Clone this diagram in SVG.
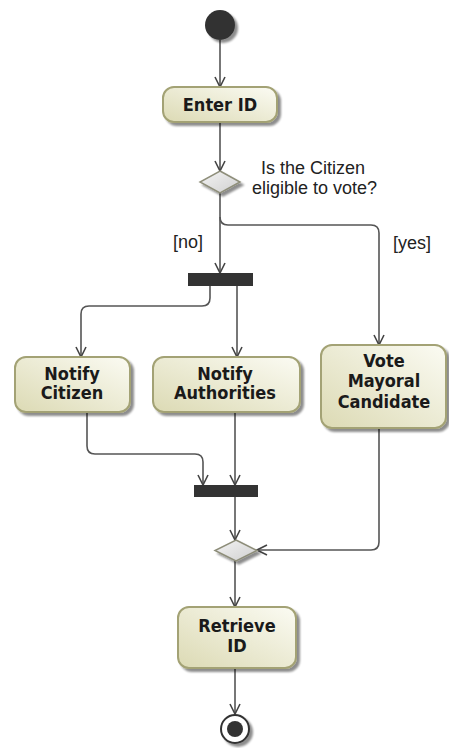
<svg xmlns="http://www.w3.org/2000/svg" width="449" height="748" viewBox="0 0 449 748">
  <defs>
    <linearGradient id="actFill" x1="1" y1="0" x2="0" y2="1">
      <stop offset="0" stop-color="#fbfbf3"/>
      <stop offset="1" stop-color="#dcdab4"/>
    </linearGradient>
    <linearGradient id="decFill" x1="0" y1="0" x2="1" y2="1">
      <stop offset="0" stop-color="#f4f4f4"/>
      <stop offset="1" stop-color="#d0d0d0"/>
    </linearGradient>
    <filter id="shadow" x="-20%" y="-20%" width="140%" height="150%">
      <feGaussianBlur in="SourceAlpha" stdDeviation="1.2"/>
      <feOffset dx="3" dy="3" result="b"/>
      <feComponentTransfer><feFuncA type="linear" slope="0.45"/></feComponentTransfer>
      <feMerge><feMergeNode/><feMergeNode in="SourceGraphic"/></feMerge>
    </filter>
    <marker id="open" viewBox="0 0 12 12" refX="11" refY="6" markerWidth="12" markerHeight="12" markerUnits="userSpaceOnUse" orient="auto">
      <path d="M1,1 L11,6 L1,11" fill="none" stroke="#444" stroke-width="1.6"/>
    </marker>
  </defs>
  <style>
    .act { fill: url(#actFill); stroke: #a3a274; stroke-width: 2; filter: url(#shadow); }
    .dec { fill: url(#decFill); stroke: #8e8e7a; stroke-width: 1.5; filter: url(#shadow); }
    .bar { fill: #333; }
    .lbl { font-family: "DejaVu Sans Condensed", "DejaVu Sans", Verdana, sans-serif; font-stretch: condensed; font-weight: bold; font-size: 18px; fill: #1a1a1a; text-anchor: middle; }
    .note { font-family: "Liberation Sans", Arial, sans-serif; font-size: 18px; fill: #222; }
    .flow { fill: none; stroke: #555; stroke-width: 1.6; marker-end: url(#open); }
  </style>

  <g id="connectors">
    <path class="flow" d="M220,40 V87"/>
    <path class="flow" d="M220,122 V171"/>
    <path class="flow" d="M220,193 V273"/>
    <path class="flow" d="M220,217 Q220,225 228,225 H371 Q379,225 379,233 V345"/>
    <path class="flow" d="M210,286 V298 Q210,306 202,306 H89 Q81,306 81,314 V357"/>
    <path class="flow" d="M237,286 V357"/>
    <path class="flow" d="M87,413 V446 Q87,454 95,454 H195 Q203,454 203,462 V485"/>
    <path class="flow" d="M235,413 V485"/>
    <path class="flow" d="M235,497 V540"/>
    <path class="flow" d="M379,429 V542 Q379,550 371,550 H257"/>
    <path class="flow" d="M235,561 V607"/>
    <path class="flow" d="M235,668 V714"/>
  </g>

  <g id="start">
    <circle cx="220" cy="25" r="15" fill="#333" filter="url(#shadow)"/>
  </g>

  <g id="enterId">
    <rect class="act" x="163" y="87" width="114" height="35" rx="11"/>
    <text class="lbl" x="220" y="111">Enter ID</text>
  </g>

  <g id="eligibleDecision">
    <path class="dec" d="M220,171 L240,182 L220,193 L200,182 Z"/>
    <text class="note" x="261" y="174">Is the Citizen</text>
    <text class="note" x="252" y="194">eligible to vote?</text>
  </g>

  <g id="guardNo"><text class="note" x="173" y="248">[no]</text></g>
  <g id="guardYes"><text class="note" x="393" y="249">[yes]</text></g>

  <g id="fork">
    <rect class="bar" x="188" y="273" width="65" height="13"/>
  </g>

  <g id="notifyCitizen">
    <rect class="act" x="15" y="357" width="115" height="55" rx="11"/>
    <text class="lbl" x="72" y="380">Notify</text>
    <text class="lbl" x="72" y="399">Citizen</text>
  </g>

  <g id="notifyAuthorities">
    <rect class="act" x="153" y="357" width="147" height="55" rx="11"/>
    <text class="lbl" x="225" y="380">Notify</text>
    <text class="lbl" x="225" y="399">Authorities</text>
  </g>

  <g id="voteCandidate">
    <rect class="act" x="321" y="345" width="125" height="83" rx="11"/>
    <text class="lbl" x="384" y="367">Vote</text>
    <text class="lbl" x="384" y="387">Mayoral</text>
    <text class="lbl" x="384" y="408">Candidate</text>
  </g>

  <g id="join">
    <rect class="bar" x="194" y="485" width="64" height="12"/>
  </g>

  <g id="merge">
    <path class="dec" d="M236,540 L257,550.5 L236,561 L215,550.5 Z"/>
  </g>

  <g id="retrieveId">
    <rect class="act" x="178" y="607" width="118" height="61" rx="11"/>
    <text class="lbl" x="237" y="632">Retrieve</text>
    <text class="lbl" x="237" y="652">ID</text>
  </g>

  <g id="end">
    <circle cx="235" cy="729" r="14" fill="#fff" stroke="#333" stroke-width="2" filter="url(#shadow)"/>
    <circle cx="235" cy="729" r="8" fill="#333"/>
  </g>
</svg>
